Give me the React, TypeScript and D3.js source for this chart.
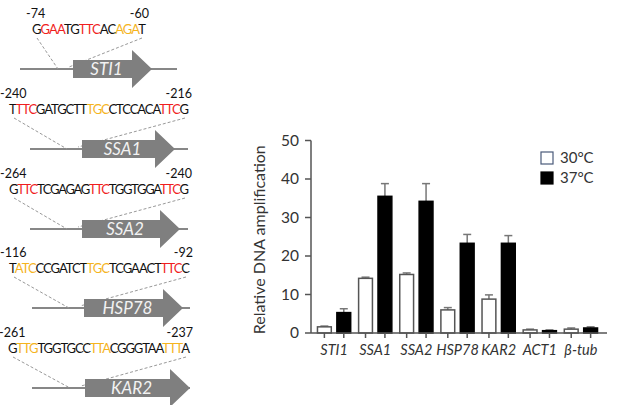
import React from "react";
import * as d3 from "d3";

// promoter panels
const promoterGenes = ["STI1", "SSA1", "SSA2", "HSP78", "KAR2"];
const promoterStart = ["-74", "-240", "-264", "-116", "-261"];
const promoterEnd = ["-60", "-216", "-240", "-92", "-237"];
// k = black, r = red, o = orange
const promoterSeqs: [string, string][][] = [
  [["G", "k"], ["GAA", "r"], ["TG", "k"], ["TTC", "r"], ["AC", "k"], ["AGA", "o"], ["T", "k"]],
  [["T", "k"], ["TTC", "r"], ["GATGCTT", "k"], ["TGC", "o"], ["CTCCACA", "k"], ["TTC", "r"], ["G", "k"]],
  [["G", "k"], ["TTC", "r"], ["TCGAGAG", "k"], ["TTC", "r"], ["TGGTGGA", "k"], ["TTC", "r"], ["G", "k"]],
  [["T", "k"], ["ATC", "o"], ["CCGATCT", "k"], ["TGC", "o"], ["TCGAACT", "k"], ["TTC", "r"], ["C", "k"]],
  [["G", "k"], ["TTG", "o"], ["TGGTGCC", "k"], ["TTA", "o"], ["CGGGTAA", "k"], ["TTT", "o"], ["A", "k"]],
];

// bar chart
const genes = ["STI1", "SSA1", "SSA2", "HSP78", "KAR2", "ACT1", "β-tub"];
const temps = ["30°C", "37°C"];
const val30 = [1.6, 14.2, 15.2, 6.0, 8.8, 0.8, 1.0];
const err30 = [0.2, 0.3, 0.4, 0.6, 1.1, 0.2, 0.3];
const val37 = [5.3, 35.5, 34.2, 23.3, 23.3, 0.6, 1.3];
const err37 = [1.0, 3.3, 4.6, 2.3, 2.0, 0.2, 0.3];
const yTicks = [0, 10, 20, 30, 40, 50];

const seqColor: Record<string, string> = { k: "#111", r: "#f01e1e", o: "#f5b41e" };
const font = "Lato, 'Open Sans', sans-serif";

function Promoters() {
  const lineY = d3.scaleLinear().domain([0, 4]).range([69, 388]);
  // horizontal extents per panel (layout)
  const seqX = [[32, 146], [9, 189], [9, 189], [9, 190], [8, 190]];
  const lineX = [[20, 177], [30, 188], [30, 188], [32, 190], [32, 190]];
  const arrowX = [[73, 152], [82, 175], [82, 180], [84, 183], [85, 190]];
  return (
    <g>
      {promoterGenes.map((g, i) => {
        const L = Math.round(lineY(i));
        const [s0, s1] = seqX[i];
        const [a0, a1] = arrowX[i];
        const head = 20;
        const pts = [
          [a0, L - 9], [a1 - head, L - 9], [a1 - head, L - 19], [a1, L],
          [a1 - head, L + 19], [a1 - head, L + 9], [a0, L + 9],
        ];
        const seqBase = L - 35;
        return (
          <g key={g}>
            <line x1={lineX[i][0]} x2={lineX[i][1]} y1={L} y2={L} stroke="#111" strokeWidth={1.2} />
            <line x1={s0 + 5} y1={seqBase + 4} x2={a0 - 15} y2={L} stroke="#999" strokeWidth={1} strokeDasharray="3,2" />
            <line x1={s1 - 4} y1={seqBase + 4} x2={a0 - 4} y2={L - 2} stroke="#999" strokeWidth={1} strokeDasharray="3,2" />
            <polygon points={pts.map((p) => p.join(",")).join(" ")} fill="#7f7f7f" />
            <text x={(a0 + a1) / 2 - 6} y={L + 6} textAnchor="middle" fill="#f2f2f2"
              fontStyle="italic" fontSize={17} fontFamily={font}>{g}</text>
            <text x={s0 - (i === 0 ? 6 : 9)} y={L - 51} fontSize={12.5} fontFamily={font} fill="#111">{promoterStart[i]}</text>
            <text x={s1 + 3} y={L - 51} textAnchor="end" fontSize={12.5} fontFamily={font} fill="#111">{promoterEnd[i]}</text>
            <text x={s0} y={seqBase} fontSize={13} fontFamily={font} textLength={s1 - s0} lengthAdjust="spacing">
              {promoterSeqs[i].map(([t, c], j) => (
                <tspan key={j} fill={seqColor[c]}>{t}</tspan>
              ))}
            </text>
          </g>
        );
      })}
    </g>
  );
}

function Bars() {
  const x0 = d3.scaleBand<string>().domain(genes).range([311, 604]).paddingInner(0.156).paddingOuter(0.139);
  const x1 = d3.scaleBand<string>().domain(temps).range([0, x0.bandwidth()]).paddingInner(0.21);
  const y = d3.scaleLinear().domain([0, 50]).range([333, 140.5]);
  const axisColor = "#555";
  const series = [
    { t: temps[0], v: val30, e: err30, fill: "#fff" },
    { t: temps[1], v: val37, e: err37, fill: "#000" },
  ];
  return (
    <g fontFamily={font}>
      {/* y axis */}
      <line x1={311} x2={311} y1={y(50)} y2={y(0)} stroke={axisColor} strokeWidth={1.5} />
      {yTicks.map((t) => (
        <g key={t}>
          <line x1={305} x2={311} y1={y(t)} y2={y(t)} stroke={axisColor} strokeWidth={1.5} />
          <text x={299} y={y(t) + 5} textAnchor="end" fontSize={15.5} fill="#333">{t}</text>
        </g>
      ))}
      <text transform={`translate(265,${(y(0) + y(50)) / 2 + 3}) rotate(-90)`} textAnchor="middle"
        fontSize={16} fill="#333">Relative DNA amplification</text>
      {/* bars */}
      {genes.map((g, i) => (
        <g key={g}>
          {series.map((s) => {
            const bx = (x0(g) ?? 0) + (x1(s.t) ?? 0);
            const bw = x1.bandwidth();
            const cx = bx + bw / 2;
            return (
              <g key={s.t}>
                <line x1={cx} x2={cx} y1={y(s.v[i])} y2={y(s.v[i] + s.e[i])} stroke="#777" strokeWidth={1.5} />
                <line x1={cx - 4} x2={cx + 4} y1={y(s.v[i] + s.e[i])} y2={y(s.v[i] + s.e[i])} stroke="#777" strokeWidth={1.5} />
                <rect x={bx + 0.75} y={y(s.v[i])} width={bw - 1.5} height={y(0) - y(s.v[i])}
                  fill={s.fill} stroke={s.fill === "#000" ? "#000" : "#555"} strokeWidth={1.5} />
                <line x1={cx} x2={cx} y1={y(0)} y2={y(0) + 5} stroke={axisColor} strokeWidth={1.5} />
              </g>
            );
          })}
          <text x={(x0(g) ?? 0) + x0.bandwidth() / 2} y={355} textAnchor="middle" fontStyle="italic"
            fontSize={14.5} fill="#333">{g}</text>
        </g>
      ))}
      <line x1={311} x2={607} y1={y(0)} y2={y(0)} stroke={axisColor} strokeWidth={1.5} />
      {/* legend */}
      {series.map((s, i) => (
        <g key={s.t} transform={`translate(541,${152 + i * 20})`}>
          <rect width={12} height={12} fill={s.fill} stroke={s.fill === "#000" ? "#000" : "#4a5a7a"} strokeWidth={1.2} />
          <text x={19} y={11} fontSize={15} fill="#333">{s.t}</text>
        </g>
      ))}
    </g>
  );
}

export default function App() {
  return (
    <svg width={627} height={405} style={{ position: "absolute", left: 0, top: 0, background: "#fff" }}>
      <Promoters />
      <Bars />
    </svg>
  );
}
